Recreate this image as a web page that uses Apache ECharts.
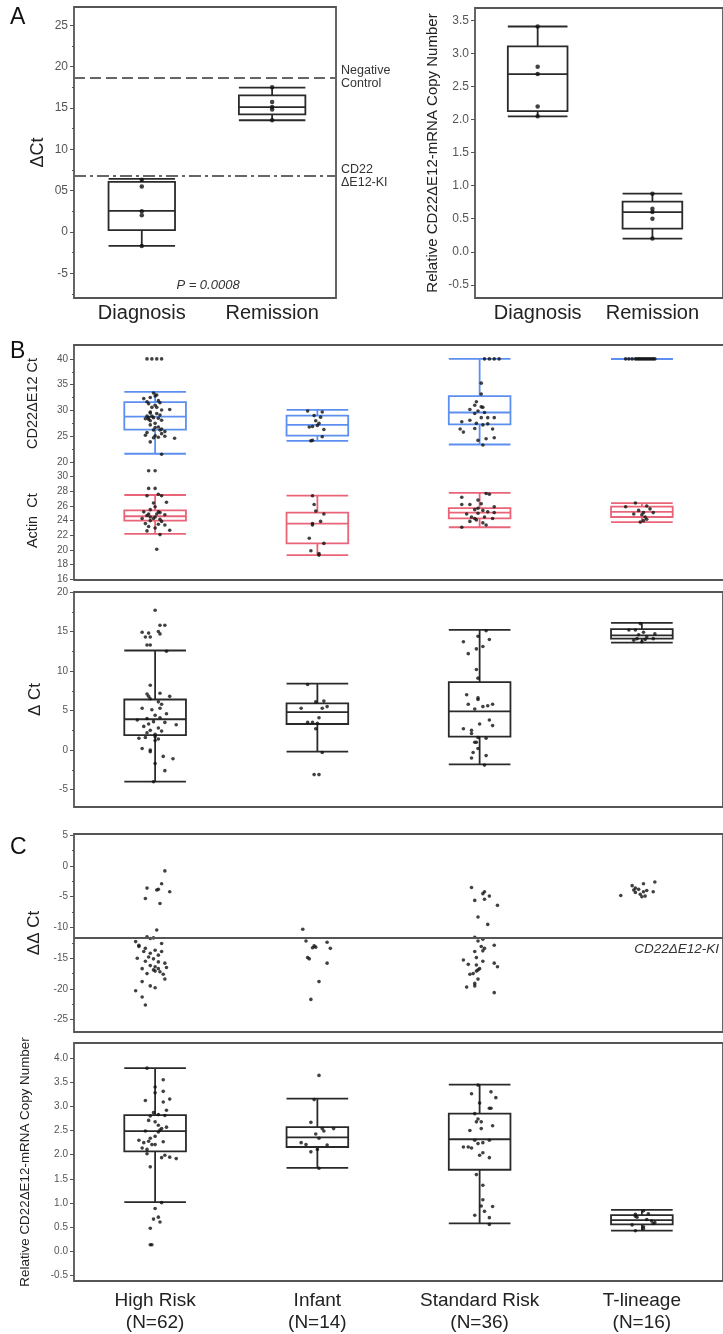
<!DOCTYPE html>
<html><head><meta charset="utf-8">
<script src="https://cdn.jsdelivr.net/npm/echarts@6/dist/echarts.min.js"></script>
<style>html,body{margin:0;padding:0;background:#fff}#c{width:723px;height:1334px}</style>
</head><body><div id="c"></div>
<script>
// ================= DATA =================
// Panel A
const aCategories = ['Diagnosis', 'Remission'];
const aDeltaCtBoxes = [[-1.7, 0.2, 2.55, 6.05, 6.4], [13.5, 14.2, 15.1, 16.5, 17.45]]; // [lo,q1,med,q3,hi]
const aDeltaCtPoints = [[6.3, 5.5, 2.5, 2.0, -1.7], [17.5, 15.7, 15.1, 14.8, 13.5]];
const aNegativeControl = 18.7;
const aKnockIn = 6.75;
const aRelBoxes = [[2.05, 2.13, 2.69, 3.11, 3.41], [0.20, 0.35, 0.60, 0.76, 0.88]];
const aRelPoints = [[3.41, 2.80, 2.69, 2.20, 2.05], [0.88, 0.65, 0.60, 0.50, 0.20]];
const aDeltaTicks = [-5, 0, 5, 10, 15, 20, 25];
const aDeltaMinor = [-7.5, -2.5, 2.5, 7.5, 12.5, 17.5, 22.5];
const aRelTicks = [-0.5, 0, 0.5, 1, 1.5, 2, 2.5, 3, 3.5];
const pValueText = 'P = 0.0008';

// Panels B and C
const riskGroups = ['High Risk', 'Infant', 'Standard Risk', 'T-lineage'];
const riskN = [62, 14, 36, 16];
const cd22Boxes = [[21.6,26.3,28.8,31.6,33.6],[24.1,25.1,27.2,29.0,30.1],[23.4,27.3,29.6,32.8,40.0],[40,40,40,40,40]];
const actinBoxes = [[22.2,24.0,24.6,25.4,27.5],[19.3,20.9,23.6,25.1,27.4],[23.1,24.3,25.1,25.7,27.8],[23.8,24.5,25.2,25.9,26.4]];
const deltaCtBoxes = [[-4.0,1.9,3.9,6.4,12.6],[-0.2,3.3,4.8,5.9,8.4],[-1.8,1.7,4.9,8.6,15.2],[13.6,14.1,14.5,15.3,16.1]];
const relBoxes = [[1.02,2.07,2.49,2.82,3.79],[1.73,2.16,2.36,2.57,3.16],[0.58,1.69,2.32,2.85,3.45],[0.43,0.56,0.65,0.75,0.86]];
const ddctKnockIn = -11.7;

const cd22Ticks = [20, 25, 30, 35, 40];
const cd22Minor = [22.5, 27.5, 32.5, 37.5];
const actinTicks = [16, 18, 20, 22, 24, 26, 28, 30];
const deltaCtTicks = [-5, 0, 5, 10, 15, 20];
const deltaCtMinor = [-2.5, 2.5, 7.5, 12.5, 17.5];
const ddctTicks = [-25, -20, -15, -10, -5, 0, 5];
const ddctMinor = [-22.5, -17.5, -12.5, -7.5, -2.5, 2.5];
const relTicks = [-0.5, 0, 0.5, 1, 1.5, 2, 2.5, 3, 3.5, 4];

// points: [horizontal jitter (category units), value]
const cd22Points = [
  [[-0.05,40],[-0.02,40],[0.01,40],[0.04,40],[-0.01,33.4],[0.01,33.0],[-0.07,32.3],[-0.03,32.5],[0.00,32.8],[-0.05,31.7],[0.02,31.9],[0.03,31.5],[-0.04,31.3],[0.00,31.0],[-0.02,30.6],[0.09,30.2],[0.04,30.1],[-0.03,29.7],[0.01,29.4],[0.03,29.1],[-0.05,28.9],[-0.01,28.6],[-0.04,28.3],[0.02,28.5],[-0.03,28.0],[0.04,28.1],[0.00,27.5],[-0.03,27.2],[0.02,26.8],[0.04,26.4],[-0.01,26.2],[0.06,25.9],[-0.05,25.7],[-0.06,25.2],[0.00,25.1],[0.06,25.0],[0.02,24.8],[0.12,24.6],[-0.01,24.7],[0.04,25.5],[-0.03,23.9],[0.04,21.5],[-0.04,28.6],[-0.02,28.9],[0.03,26.2],[0.01,30.6],[-0.03,29.5],[0.00,26.7],[-0.06,28.4]],
  [[-0.06,29.9],[0.03,29.7],[-0.02,29.0],[-0.01,28.0],[0.01,27.5],[-0.05,26.8],[-0.03,26.9],[0.04,26.3],[0.03,24.9],[-0.04,24.1],[-0.03,24.2],[0.00,27.1],[0.02,28.7]],
  [[0.03,40],[0.06,40],[0.09,40],[0.12,40],[0.01,35.3],[0.01,33.2],[-0.02,31.7],[-0.03,31.0],[0.01,30.7],[0.02,30.6],[-0.06,30.2],[-0.01,29.9],[0.03,29.6],[-0.03,29.4],[0.01,28.6],[0.05,28.6],[0.09,28.6],[-0.06,28.1],[-0.11,27.8],[-0.02,27.5],[0.05,27.4],[0.02,27.2],[0.08,26.4],[-0.03,26.5],[-0.12,26.4],[-0.10,25.8],[0.09,24.7],[0.04,24.5],[-0.01,24.2],[0.02,23.3]],
  [[-0.10,40],[-0.08,40],[-0.06,40],[-0.04,40],[-0.03,40],[-0.02,40],[-0.01,40],[0.00,40],[0.01,40],[0.02,40],[0.03,40],[0.04,40],[0.05,40],[0.06,40],[0.07,40],[0.08,40]]
];
const actinPoints = [
  [[-0.04,30.8],[0.00,30.8],[-0.04,28.4],[0.00,28.4],[0.02,27.6],[0.04,27.4],[-0.05,27.4],[0.07,26.5],[-0.01,26.4],[0.00,25.9],[-0.03,25.5],[-0.07,25.2],[0.03,25.1],[-0.04,24.9],[0.06,24.8],[0.00,24.5],[-0.08,24.3],[0.03,24.2],[-0.03,24.0],[-0.06,23.6],[0.02,23.5],[0.06,23.4],[-0.04,23.2],[0.00,23.0],[0.09,22.7],[-0.05,22.6],[0.03,22.1],[0.01,20.1],[-0.01,24.3],[0.02,25.2],[0.04,23.9],[-0.03,24.5],[0.01,24.9],[-0.05,24.7]],
  [[-0.03,27.4],[-0.02,26.2],[-0.01,25.3],[0.04,24.9],[0.02,23.9],[-0.03,23.6],[-0.03,23.4],[-0.05,21.6],[0.04,20.9],[-0.04,19.9],[0.01,19.5],[0.01,19.3]],
  [[0.04,27.7],[0.06,27.6],[-0.11,27.2],[-0.01,26.8],[0.01,26.3],[-0.06,26.2],[-0.11,26.2],[0.09,25.9],[-0.03,25.5],[0.02,25.4],[0.05,25.2],[-0.01,25.0],[-0.08,24.9],[0.09,25.1],[-0.05,24.5],[0.03,24.5],[0.08,24.3],[-0.02,24.1],[-0.06,23.9],[0.02,23.7],[0.04,23.4],[-0.11,23.1],[-0.03,24.3],[-0.01,25.7]],
  [[-0.04,26.4],[-0.10,25.9],[0.03,26.0],[0.05,25.6],[-0.02,25.4],[0.01,25.1],[0.07,25.1],[-0.05,24.9],[0.00,24.8],[0.02,24.5],[0.03,24.2],[0.01,24.0],[-0.01,23.8]]
];
const deltaCtPoints = [
  [[0.00,17.7],[0.03,15.8],[0.06,15.8],[-0.08,14.9],[-0.04,14.8],[0.02,15.0],[0.03,14.7],[-0.06,14.3],[-0.03,14.3],[-0.05,13.3],[-0.03,13.3],[0.07,12.5],[-0.03,8.2],[-0.05,7.1],[0.03,7.2],[-0.04,6.8],[0.09,6.8],[-0.03,6.5],[0.02,6.1],[0.04,5.8],[-0.08,5.3],[-0.02,5.1],[0.03,5.3],[0.07,4.6],[0.00,4.4],[-0.05,4.0],[0.03,4.1],[-0.11,3.8],[-0.01,3.6],[0.06,3.5],[-0.04,3.3],[0.13,3.2],[-0.07,3.0],[0.02,2.8],[-0.03,2.5],[0.04,2.4],[-0.05,2.2],[0.00,2.0],[0.00,1.7],[-0.06,1.6],[-0.10,1.5],[0.02,1.4],[0.00,1.2],[-0.08,0.2],[-0.03,0.0],[-0.03,-0.2],[0.05,-0.8],[0.11,-1.1],[0.00,-1.7],[0.06,-2.6],[-0.01,-4.0]],
  [[-0.06,8.3],[-0.01,6.1],[0.04,6.2],[-0.10,5.3],[0.03,5.3],[0.06,5.5],[0.01,4.1],[-0.06,3.5],[-0.03,3.5],[0.00,3.4],[-0.01,2.7],[0.03,-0.3],[-0.02,-3.1],[0.01,-3.1]],
  [[0.04,15.1],[-0.01,14.4],[-0.10,13.7],[0.06,14.0],[0.02,13.1],[-0.02,12.8],[-0.07,12.2],[-0.02,10.2],[-0.01,9.1],[-0.08,7.0],[-0.01,6.6],[-0.01,6.4],[-0.07,5.8],[0.08,5.8],[0.05,5.6],[0.02,5.5],[-0.03,5.2],[0.06,3.8],[0.00,3.3],[0.08,3.1],[-0.10,2.7],[-0.05,2.5],[-0.05,2.1],[0.04,1.5],[-0.01,1.6],[-0.03,1.0],[-0.02,1.0],[-0.01,0.2],[-0.04,-0.3],[0.04,-0.7],[-0.05,-1.0],[0.03,-1.9]],
  [[-0.01,16.0],[-0.04,15.2],[-0.08,15.2],[0.01,14.9],[0.08,14.7],[0.03,14.3],[-0.03,14.1],[-0.05,13.9],[0.07,14.1],[0.00,13.7],[0.02,14.0],[-0.02,14.6]]
];
const ddctPoints = [
  [[0.06,-0.8],[-0.05,-3.6],[0.02,-3.8],[0.01,-3.9],[0.04,-2.9],[0.09,-4.2],[-0.06,-5.3],[0.03,-6.1],[0.01,-10.4],[-0.05,-11.5],[-0.03,-11.8],[-0.01,-11.7],[-0.12,-12.3],[-0.10,-12.9],[0.04,-12.6],[-0.06,-13.4],[0.00,-13.7],[-0.07,-13.9],[0.04,-13.9],[-0.03,-14.2],[0.02,-14.5],[-0.11,-15.0],[-0.01,-15.1],[-0.06,-15.5],[0.02,-15.6],[0.06,-15.8],[-0.03,-16.2],[0.00,-16.4],[0.07,-16.5],[-0.08,-16.7],[-0.01,-16.9],[0.03,-17.2],[-0.05,-17.5],[0.05,-17.6],[0.00,-17.1],[0.06,-18.4],[-0.08,-18.8],[-0.03,-19.5],[0.00,-19.8],[-0.12,-20.3],[-0.08,-21.3],[-0.06,-22.6],[-0.10,-13.1],[-0.04,-14.8],[0.02,-16.7]],
  [[-0.09,-10.3],[-0.07,-12.2],[-0.02,-13.0],[-0.03,-13.3],[0.06,-12.4],[0.08,-13.4],[-0.06,-14.9],[-0.05,-15.1],[0.06,-15.8],[0.01,-18.8],[-0.04,-21.7],[-0.01,-13.2]],
  [[-0.05,-3.5],[0.03,-4.2],[0.02,-4.5],[0.06,-4.9],[-0.03,-5.6],[0.03,-5.4],[0.11,-6.4],[-0.01,-8.3],[0.05,-9.5],[-0.03,-11.6],[0.02,-11.9],[-0.01,-12.2],[0.09,-12.9],[0.01,-13.1],[0.03,-13.4],[0.02,-13.8],[-0.03,-13.9],[-0.10,-15.3],[-0.02,-14.9],[0.02,-15.5],[0.09,-15.8],[-0.07,-16.0],[0.11,-16.4],[-0.02,-16.1],[-0.01,-16.9],[-0.02,-17.1],[-0.06,-17.6],[-0.04,-17.5],[-0.01,-18.4],[-0.03,-19.1],[-0.03,-19.5],[-0.08,-19.7],[0.09,-20.6],[0.00,-16.7]],
  [[-0.13,-4.8],[-0.06,-3.2],[-0.04,-3.6],[0.01,-2.9],[0.08,-2.6],[-0.02,-3.8],[0.01,-4.2],[-0.04,-4.3],[0.07,-4.2],[-0.01,-4.6],[0.02,-4.9],[0.00,-5.0],[-0.05,-3.9],[0.03,-4.0]]
];
const relPoints = [
  [[-0.05,3.79],[0.05,3.55],[0.00,3.40],[0.05,3.31],[0.00,3.28],[0.09,3.15],[-0.06,3.12],[0.05,3.09],[0.07,2.92],[-0.01,2.87],[0.02,2.83],[-0.03,2.80],[0.06,2.81],[-0.04,2.71],[0.00,2.68],[0.02,2.61],[0.07,2.57],[0.04,2.54],[-0.06,2.49],[0.02,2.47],[0.03,2.51],[-0.10,2.30],[-0.04,2.28],[-0.07,2.25],[0.05,2.27],[-0.02,2.21],[0.00,2.21],[-0.08,2.14],[-0.05,2.11],[-0.05,2.02],[0.06,1.99],[0.04,1.94],[0.13,1.92],[0.09,1.95],[-0.03,1.75],[0.04,1.01],[0.00,0.89],[0.02,0.71],[-0.01,0.67],[0.03,0.61],[-0.03,0.48],[-0.03,0.14],[-0.02,0.14],[0.00,2.38],[-0.03,2.34]],
  [[0.01,3.64],[-0.02,3.14],[-0.04,2.67],[0.03,2.54],[0.10,2.54],[-0.01,2.43],[-0.10,2.25],[-0.07,2.21],[0.06,2.20],[0.00,2.11],[-0.04,2.06],[0.01,1.72],[0.04,2.49],[0.01,2.34]],
  [[-0.01,3.44],[-0.05,3.26],[0.07,3.30],[0.10,3.18],[0.00,3.07],[0.07,2.96],[0.06,2.96],[-0.03,2.85],[-0.01,2.74],[-0.02,2.68],[0.01,2.68],[0.08,2.60],[-0.06,2.50],[0.01,2.54],[-0.03,2.30],[0.06,2.30],[0.02,2.25],[-0.01,2.23],[-0.07,2.16],[-0.10,2.16],[-0.05,2.14],[0.02,2.04],[0.00,1.99],[0.06,1.94],[-0.02,1.59],[0.02,1.37],[0.02,1.07],[0.01,0.94],[0.08,0.93],[0.03,0.83],[-0.03,0.75],[0.06,0.70],[0.06,0.56]],
  [[0.01,0.84],[0.04,0.78],[-0.04,0.77],[-0.04,0.73],[-0.03,0.71],[0.06,0.63],[0.07,0.58],[0.08,0.60],[-0.06,0.55],[0.01,0.51],[0.01,0.47],[-0.04,0.43],[0.03,0.66]]
];

// ================= STYLE / HELPERS =================
const FONT = '"Liberation Sans", Arial, Helvetica, sans-serif';
const AX = '#555', TXT = '#222', BLACK = '#2a2a2a', BLUE = '#5d8ff0', RED = '#ea6478';

const grids = [], xAxes = [], yAxes = [], series = [];

function boxSeries(xi, yi, boxes, color, frac) {
  return {
    type: 'custom', xAxisIndex: xi, yAxisIndex: yi, z: 2, silent: true, clip: false,
    encode: { x: 0, y: [1, 2, 3, 4, 5] },
    data: boxes.map((b, i) => [i].concat(b)),
    renderItem: function (params, api) {
      const x = api.value(0);
      const lo = api.coord([x, api.value(1)]);
      const q1 = api.coord([x, api.value(2)]);
      const md = api.coord([x, api.value(3)]);
      const q3 = api.coord([x, api.value(4)]);
      const hi = api.coord([x, api.value(5)]);
      const hw = api.size([frac, 0])[0] / 2;
      const cx = lo[0];
      const st = { stroke: color, lineWidth: 1.8, fill: 'rgba(0,0,0,0)' };
      return { type: 'group', children: [
        { type: 'line', shape: { x1: cx, y1: hi[1], x2: cx, y2: q3[1] }, style: st },
        { type: 'line', shape: { x1: cx, y1: q1[1], x2: cx, y2: lo[1] }, style: st },
        { type: 'line', shape: { x1: cx - hw, y1: hi[1], x2: cx + hw, y2: hi[1] }, style: st },
        { type: 'line', shape: { x1: cx - hw, y1: lo[1], x2: cx + hw, y2: lo[1] }, style: st },
        { type: 'rect', shape: { x: cx - hw, y: q3[1], width: 2 * hw, height: q1[1] - q3[1] }, style: st },
        { type: 'line', shape: { x1: cx - hw, y1: md[1], x2: cx + hw, y2: md[1] }, style: st }
      ]};
    }
  };
}
function jitterSeries(xi, yi, groups, extra) {
  return Object.assign({
    type: 'scatter', xAxisIndex: xi, yAxisIndex: yi, z: 3, silent: true,
    symbol: 'circle', symbolSize: 3.6, itemStyle: { color: '#111' },
    data: groups.flatMap((g, i) => g.map(p => [i + p[0], p[1]]))
  }, extra || {});
}
function plainSeries(xi, yi, groups, extra) {
  return Object.assign({
    type: 'scatter', xAxisIndex: xi, yAxisIndex: yi, z: 3, silent: true,
    symbol: 'circle', symbolSize: 4.5, itemStyle: { color: '#111' },
    data: groups.flatMap((g, i) => g.map(v => [i, v]))
  }, extra || {});
}
function hiddenX(gi, min, max, extra) {
  const ax = Object.assign({
    type: 'value', gridIndex: gi, min: min, max: max,
    axisLine: { show: false, onZero: false }, axisTick: { show: false }, axisLabel: { show: false }, splitLine: { show: false }
  }, extra || {});
  ax.axisLine = Object.assign({ show: false }, ax.axisLine, { onZero: false });
  xAxes.push(ax);
  return xAxes.length - 1;
}
function mainY(gi, min, max, ticks, fmt, size, name, nameSize, gap, line) {
  yAxes.push({
    type: 'value', gridIndex: gi, min: min, max: max, position: 'left',
    axisLine: { show: !!line, onZero: false, lineStyle: { color: AX, width: 1.8 } },
    axisTick: { show: true, customValues: ticks, length: 4, lineStyle: { color: AX, width: 1 } },
    axisLabel: { customValues: ticks, fontSize: size, color: AX, fontFamily: FONT, margin: 6, formatter: fmt },
    splitLine: { show: false },
    name: name, nameLocation: 'middle', nameGap: gap, nameRotate: 90,
    nameTextStyle: { fontSize: nameSize, color: TXT, fontFamily: FONT }
  });
  return yAxes.length - 1;
}
function minorY(gi, min, max, ticks) {
  yAxes.push({
    type: 'value', gridIndex: gi, min: min, max: max, position: 'left',
    axisLine: { show: false, onZero: false }, axisLabel: { show: false }, splitLine: { show: false },
    axisTick: { show: true, customValues: ticks, length: 2, lineStyle: { color: AX, width: 1 } }
  });
}
const frame = { show: true, borderColor: AX, borderWidth: 1.8, backgroundColor: 'rgba(0,0,0,0)' };
const num = v => String(v);
const dec1 = v => v.toFixed(1);

// ---------- Panel A left ----------
grids.push(Object.assign({ left: 74, top: 7, width: 262, height: 291 }, frame));
let xi = hiddenX(0, -0.52, 1.49, {
  axisLabel: { show: true, customValues: [0, 1], formatter: v => aCategories[Math.round(v)], fontSize: 20, color: TXT, fontFamily: FONT, margin: 5 }
});
let yi = mainY(0, -8, 27.2, aDeltaTicks, v => (v === 5 ? '05' : String(v)), 12, 'ΔCt', 18, 27, false);
minorY(0, -8, 27.2, aDeltaMinor);
series.push(boxSeries(xi, yi, aDeltaCtBoxes, BLACK, 0.51));
series.push(plainSeries(xi, yi, aDeltaCtPoints, {
  markLine: {
    silent: true, symbol: ['none', 'none'], animation: false,
    label: { show: true, position: 'end', distance: 5, color: '#333', fontSize: 12.5, lineHeight: 13, fontFamily: FONT },
    data: [
      { yAxis: aNegativeControl, lineStyle: { type: [11, 5], color: '#666', width: 1.8 }, label: { formatter: 'Negative\nControl' } },
      { yAxis: aKnockIn, lineStyle: { type: [12, 4, 3, 4], color: '#666', width: 1.8 }, label: { formatter: 'CD22\nΔE12-KI' } }
    ]
  }
}));

// ---------- Panel A right ----------
grids.push(Object.assign({ left: 475, top: 8, width: 268, height: 290 }, frame));
xi = hiddenX(1, -0.546, 1.615, {
  axisLabel: { show: true, customValues: [0, 1], formatter: v => aCategories[Math.round(v)], fontSize: 20, color: TXT, fontFamily: FONT, margin: 5 }
});
yi = mainY(1, -0.70, 3.69, aRelTicks, dec1, 12, 'Relative CD22ΔE12-mRNA Copy Number', 15, 35, false);
series.push(boxSeries(xi, yi, aRelBoxes, BLACK, 0.52));
series.push(plainSeries(xi, yi, aRelPoints));

// ---------- Panel B: CD22 Ct (blue) ----------
grids.push({ left: 74, top: 345, width: 656, height: 117 });
xi = hiddenX(2, -0.5, 3.5, { position: 'top', axisLine: { show: true, lineStyle: { color: AX, width: 1.8 } } });
yi = mainY(2, 20, 42.7, cd22Ticks, num, 10, 'CD22ΔE12 Ct', 14.5, 34, true);
minorY(2, 20, 42.7, cd22Minor);
series.push(boxSeries(xi, yi, cd22Boxes, BLUE, 0.38));
series.push(jitterSeries(xi, yi, cd22Points));

// ---------- Panel B: Actin Ct (red) ----------
grids.push({ left: 74, top: 462, width: 656, height: 117.3 });
xi = hiddenX(3, -0.5, 3.5, { position: 'bottom', axisLine: { show: true, lineStyle: { color: AX, width: 1.8 } } });
yi = mainY(3, 16, 32, actinTicks, num, 10, 'Actin  Ct', 14.5, 34, true);
series.push(boxSeries(xi, yi, actinBoxes, RED, 0.38));
series.push(jitterSeries(xi, yi, actinPoints));

// ---------- Panel B: ΔCt ----------
grids.push(Object.assign({ left: 74, top: 592, width: 656, height: 215 }, frame));
xi = hiddenX(4, -0.5, 3.5);
yi = mainY(4, -7.2, 20, deltaCtTicks, num, 10, 'Δ Ct', 17, 30, false);
minorY(4, -7.2, 20, deltaCtMinor);
series.push(boxSeries(xi, yi, deltaCtBoxes, BLACK, 0.38));
series.push(jitterSeries(xi, yi, deltaCtPoints));

// ---------- Panel C: ΔΔCt ----------
grids.push(Object.assign({ left: 74, top: 834, width: 656, height: 198 }, frame));
xi = hiddenX(5, -0.5, 3.5);
yi = mainY(5, -27, 5.2, ddctTicks, num, 10, 'ΔΔ Ct', 17, 29, false);
minorY(5, -27, 5.2, ddctMinor);
series.push(jitterSeries(xi, yi, ddctPoints, {
  markLine: {
    silent: true, symbol: ['none', 'none'], animation: false,
    lineStyle: { type: 'solid', color: '#555', width: 1.8 },
    label: { show: true, position: 'insideEndBottom', distance: 4, formatter: 'CD22ΔE12-KI', fontStyle: 'italic', fontSize: 13.5, color: '#333', fontFamily: FONT },
    data: [{ yAxis: ddctKnockIn }]
  }
}));

// ---------- Panel C: relative copy number ----------
grids.push(Object.assign({ left: 74, top: 1043, width: 656, height: 239 }, frame));
xi = hiddenX(6, -0.5, 3.5, {
  axisLabel: { show: true, customValues: [0, 1, 2, 3], formatter: v => riskGroups[Math.round(v)] + '\n(N=' + riskN[Math.round(v)] + ')',
    fontSize: 19, lineHeight: 22, color: TXT, fontFamily: FONT, margin: 9 }
});
yi = mainY(6, -0.61, 4.31, relTicks, dec1, 10, 'Relative CD22ΔE12-mRNA Copy Number', 13.4, 42, false);
series.push(boxSeries(xi, yi, relBoxes, BLACK, 0.38));
series.push(jitterSeries(xi, yi, relPoints));

// ---------- annotations ----------
const graphic = [
  { type: 'text', x: 10, y: 6, style: { text: 'A', font: '23px ' + FONT, fill: '#111' } },
  { type: 'text', x: 10, y: 340, style: { text: 'B', font: '23px ' + FONT, fill: '#111' } },
  { type: 'text', x: 10, y: 836, style: { text: 'C', font: '23px ' + FONT, fill: '#111' } },
  { type: 'text', x: 208, y: 285, style: { text: pValueText, font: 'italic 13px ' + FONT, fill: '#333', align: 'center', verticalAlign: 'middle' } }
];

const chart = echarts.init(document.getElementById('c'), null, { renderer: 'canvas' });
chart.setOption({
  animation: false,
  backgroundColor: '#fff',
  grid: grids, xAxis: xAxes, yAxis: yAxes, series: series, graphic: graphic
});
</script>
</body></html>
